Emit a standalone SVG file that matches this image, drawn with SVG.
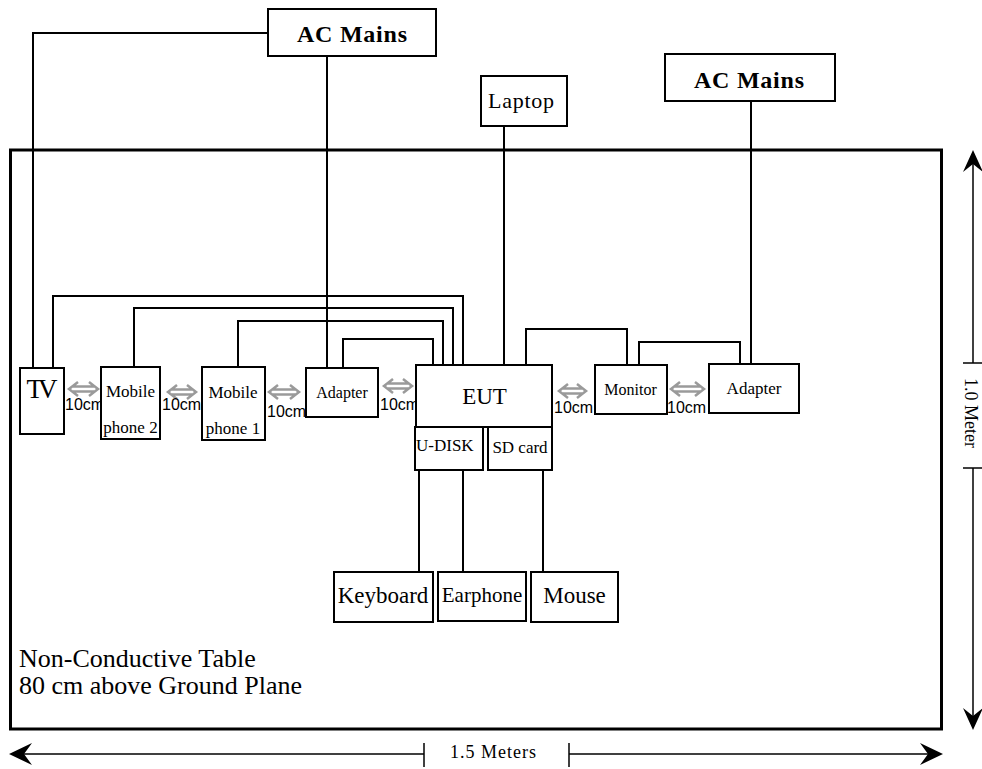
<svg xmlns="http://www.w3.org/2000/svg" width="982" height="769" viewBox="0 0 982 769">
<style>
.box{fill:#fff;stroke:#000;stroke-width:2}
.w{fill:none;stroke:#000;stroke-width:2}
.t{font-family:"Liberation Serif","Times New Roman",serif;fill:#000}
.b{font-weight:bold}
.c{text-anchor:middle}
.cm{font-family:"Liberation Sans",Arial,sans-serif;font-size:16px;fill:#000}
.g{fill:none;stroke:#9a9a9a;stroke-width:2.5}
.dim{fill:none;stroke:#000;stroke-width:1.5}
</style>
<rect x="10.5" y="150" width="931" height="579" fill="#fff" stroke="#000" stroke-width="3"/>
<g id="connectors">
<polyline class="w" points="268,33 33,33 33,368"/>
<line class="w" x1="327" y1="56" x2="327" y2="368"/>
<line class="w" x1="504" y1="126" x2="504" y2="365"/>
<line class="w" x1="751" y1="101" x2="751" y2="364"/>
<polyline class="w" points="53,368 53,296 463,296 463,365"/>
<polyline class="w" points="134,367 134,308 453,308 453,365"/>
<polyline class="w" points="238,367 238,321 443,321 443,365"/>
<polyline class="w" points="343,368 343,339 433,339 433,365"/>
<polyline class="w" points="526,365 526,329 627,329 627,365"/>
<polyline class="w" points="639,365 639,342 740,342 740,364"/>
<line class="w" x1="419" y1="470" x2="419" y2="572"/>
<line class="w" x1="463" y1="470" x2="463" y2="572"/>
<line class="w" x1="543" y1="470" x2="543" y2="572"/>
</g>
<g id="spacing">
<path class="g" d="M78,382 L69,389 L78,396 M89,382 L98,389 L89,396 M73,386.5 H94 M73,391.5 H94"/>
<path class="g" d="M177,385 L168,392 L177,399 M187,385 L196,392 L187,399 M172,389.5 H192 M172,394.5 H192"/>
<path class="g" d="M278,385 L269,392 L278,399 M290,385 L299,392 L290,399 M273,389.5 H295 M273,394.5 H295"/>
<path class="g" d="M393,379 L384,386 L393,393 M403,379 L412,386 L403,393 M388,383.5 H408 M388,388.5 H408"/>
<path class="g" d="M568,384 L559,391 L568,398 M577,384 L586,391 L577,398 M563,388.5 H582 M563,393.5 H582"/>
<path class="g" d="M680,382 L671,389 L680,396 M695,382 L704,389 L695,396 M675,386.5 H700 M675,391.5 H700"/>
<text class="cm" x="65" y="410">10cm</text>
<text class="cm" x="162" y="410">10cm</text>
<text class="cm" x="267" y="417">10cm</text>
<text class="cm" x="380" y="410">10cm</text>
<text class="cm" x="554" y="413">10cm</text>
<text class="cm" x="667" y="413">10cm</text>
</g>
<g id="ac-mains-1"><rect class="box" x="268" y="9" width="168" height="47"/><text class="t b c" x="352" y="42" font-size="24" textLength="110">AC Mains</text></g>
<g id="laptop"><rect class="box" x="481" y="76" width="86" height="50"/><text class="t c" x="521" y="108" font-size="22" textLength="66">Laptop</text></g>
<g id="ac-mains-2"><rect class="box" x="665" y="54" width="170" height="47"/><text class="t b c" x="749" y="88" font-size="24" textLength="110">AC Mains</text></g>
<g id="tv"><rect class="box" x="20" y="368" width="44" height="66"/><text class="t c" x="42" y="398" font-size="27" textLength="31">TV</text></g>
<g id="mobile-phone-2"><rect class="box" x="101" y="367" width="59" height="72"/><text class="t c" x="130.5" y="397" font-size="17">Mobile</text><text class="t c" x="130.5" y="433" font-size="17">phone 2</text></g>
<g id="mobile-phone-1"><rect class="box" x="202" y="367" width="63" height="73"/><text class="t c" x="233" y="398" font-size="17">Mobile</text><text class="t c" x="233" y="434" font-size="17">phone 1</text></g>
<g id="adapter-1"><rect class="box" x="306" y="368" width="72" height="49"/><text class="t c" x="342" y="398" font-size="16">Adapter</text></g>
<g id="eut"><rect class="box" x="416" y="365" width="136" height="62"/><text class="t c" x="484.5" y="404" font-size="23">EUT</text></g>
<g id="u-disk"><rect class="box" x="415" y="427" width="68" height="43"/><text class="t" x="416" y="451" font-size="17">U-DISK</text></g>
<g id="sd-card"><rect class="box" x="488" y="427" width="64" height="43"/><text class="t c" x="520" y="453" font-size="17">SD card</text></g>
<g id="monitor"><rect class="box" x="595" y="365" width="72" height="49"/><text class="t c" x="630.5" y="395" font-size="16">Monitor</text></g>
<g id="adapter-2"><rect class="box" x="709" y="364" width="90" height="49"/><text class="t c" x="754" y="394" font-size="17">Adapter</text></g>
<g id="keyboard"><rect class="box" x="334" y="572" width="99" height="50"/><text class="t c" x="383" y="603" font-size="23">Keyboard</text></g>
<g id="earphone"><rect class="box" x="438" y="572" width="88" height="49"/><text class="t c" x="482" y="602" font-size="21">Earphone</text></g>
<g id="mouse"><rect class="box" x="531" y="572" width="87" height="50"/><text class="t c" x="574.5" y="603" font-size="23">Mouse</text></g>
<g id="table-label">
<text class="t" x="19" y="667" font-size="26">Non-Conductive Table</text>
<text class="t" x="19" y="694" font-size="26">80 cm above Ground Plane</text>
</g>
<g id="dimensions">
<line class="dim" x1="14" y1="754" x2="424" y2="754"/>
<line class="dim" x1="424" y1="743" x2="424" y2="767"/>
<line class="dim" x1="569" y1="743" x2="569" y2="767"/>
<line class="dim" x1="569" y1="754" x2="938" y2="754"/>
<path d="M9,754 L32,743 L24,754 L32,765 Z" fill="#000"/>
<path d="M943,754 L920,743 L928,754 L920,765 Z" fill="#000"/>
<text class="t" x="450" y="758" font-size="18" textLength="86">1.5 Meters</text>
<line class="dim" x1="973" y1="155" x2="973" y2="363"/>
<line class="dim" x1="963" y1="363" x2="982" y2="363"/>
<line class="dim" x1="963" y1="468" x2="982" y2="468"/>
<line class="dim" x1="973" y1="468" x2="973" y2="725"/>
<path d="M973,150 L963,172 L973,164 L983,172 Z" fill="#000"/>
<path d="M973,730 L963,708 L973,716 L983,708 Z" fill="#000"/>
<text class="t" transform="translate(965,378) rotate(90)" x="0" y="0" font-size="18">1.0 Meter</text>
</g>
</svg>
